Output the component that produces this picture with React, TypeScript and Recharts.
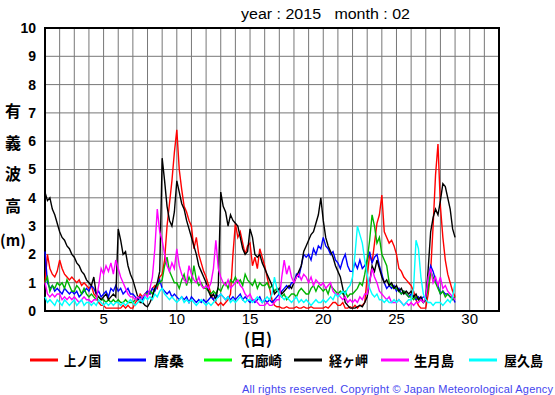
import React from 'react';
import { LineChart, Line, XAxis, YAxis, CartesianGrid, ReferenceArea } from 'recharts';

// 4-hourly samples from day 1.0 to day 29.0 (6 per day)
const kaminokuni = [
  1.0, 2.0, 1.5, 1.3, 1.2, 1.4,
  1.8, 1.5, 1.3, 1.2, 1.1, 1.2,
  1.1, 1.0, 1.1, 0.9, 1.0, 0.9,
  0.8, 0.9, 0.6, 0.5, 0.3, 0.2,
  0.2, 0.1, 0.1, 0.1, 0.1, 0.1,
  0.1, 0.1, 0.2, 0.1, 0.2, 0.1,
  0.1, 0.3, 0.4, 0.6, 0.5, 0.6,
  0.7, 0.6, 0.8, 0.9, 0.8, 1.2,
  1.3, 1.8, 3.0, 3.8, 4.6, 5.6,
  6.4, 5.0, 4.3, 3.7, 3.5, 3.2,
  3.0, 2.2, 2.6, 2.0, 1.7, 1.4,
  1.2, 0.9, 0.6, 0.4, 0.3, 0.2,
  0.3, 0.2, 0.3, 0.4, 0.6, 2.0,
  3.1, 2.6, 2.8, 2.4, 2.0, 2.3,
  2.4, 1.6, 1.9, 1.5, 2.2, 1.9,
  1.6, 1.2, 0.8, 0.4, 0.2, 0.15,
  0.15, 0.1, 0.1, 0.15, 0.1, 0.1,
  0.1, 0.15, 0.1, 0.1, 0.15, 0.1,
  0.1, 0.15, 0.1, 0.1, 0.1, 0.1,
  0.1, 0.15, 0.1, 0.2, 0.3, 0.3,
  0.2, 0.2, 0.3, 0.1, 0.1, 0.15,
  0.1, 0.2, 0.1, 0.2, 0.2, 0.3,
  1.2, 2.0, 1.7, 2.4, 3.1, 3.4,
  4.1, 2.8, 2.6, 2.4, 2.5, 2.3,
  2.0, 1.5, 1.4, 1.2, 1.1, 1.0,
  0.9, 0.7, 0.4, 0.2, 0.1, 0.1,
  0.1, 0.6, 1.4, 3.0, 4.8, 5.9,
  3.7, 2.6, 1.8, 1.3, 1.0, 0.7,
  0.5,
];

const karakuwa = [
  2.1, 1.0, 0.8, 0.9, 0.7, 0.8,
  0.7, 0.6, 0.8, 0.7, 0.6, 0.7,
  0.6, 0.7, 0.5, 0.6, 0.7, 0.8,
  0.7, 0.9, 0.8, 0.6, 0.7, 0.5,
  0.6, 0.7, 0.5, 0.8, 0.7, 0.9,
  0.7, 0.8, 0.6, 0.7, 0.8, 0.6,
  0.6, 0.5, 0.4, 0.5, 0.4, 0.6,
  0.7, 0.6, 0.8, 0.7, 0.9, 1.1,
  0.8, 0.7, 0.6, 0.7, 0.5, 0.6,
  0.5, 0.4, 0.5, 0.4, 0.5, 0.3,
  0.5, 0.4, 0.3, 0.4, 0.3, 0.4,
  0.3, 0.4, 0.5, 0.4, 0.6, 0.5,
  0.6, 0.5, 0.4, 0.5, 0.4, 0.5,
  0.4, 0.5, 0.6, 0.4, 0.5, 0.4,
  0.3, 0.4, 0.3, 0.4, 0.5, 0.3,
  0.4, 0.3, 0.4, 0.3, 0.4, 0.5,
  0.6, 0.7, 0.8, 0.9, 0.8, 1.0,
  1.0, 1.3, 1.2, 1.6, 2.0, 1.9,
  2.0, 1.8, 2.2, 2.0, 2.3, 2.2,
  2.6, 2.3, 2.2, 2.0, 2.1, 1.8,
  1.7, 1.5, 1.8, 2.0, 1.6, 1.4,
  1.4, 1.7, 1.5, 1.8, 1.5, 1.6,
  1.8, 2.1, 1.7, 1.9, 2.0, 1.6,
  1.3, 1.0, 0.8, 0.9, 0.8, 0.9,
  0.7, 0.8, 0.6, 0.7, 0.6, 0.5,
  0.6, 0.5, 0.4, 0.5, 0.4, 0.5,
  0.5, 1.2, 1.6, 1.4, 1.1, 0.9,
  0.6, 0.7, 0.6, 0.6, 0.5, 0.5,
  0.3,
];

const irozaki = [
  1.0, 1.2, 0.7, 0.9, 0.8, 1.0,
  0.9, 1.0, 0.8, 1.1, 0.9, 0.7,
  0.7, 0.9, 0.8, 0.6, 0.8, 0.6,
  0.5, 0.6, 0.5, 0.4, 0.5, 0.4,
  0.4, 0.3, 0.4, 0.3, 0.4, 0.3,
  0.4, 0.3, 0.3, 0.4, 0.3, 0.3,
  0.3, 0.4, 0.5, 0.4, 0.5, 0.6,
  0.6, 0.7, 0.6, 0.8, 0.9, 1.0,
  1.1, 1.6, 1.9, 1.4, 1.2, 1.0,
  1.0, 0.8, 1.1, 1.3, 0.9, 1.2,
  1.0, 1.6, 1.1, 0.9, 1.0, 0.8,
  0.8, 0.7, 0.6, 0.7, 0.6, 0.8,
  0.7, 0.9, 1.0, 0.8, 1.1, 1.0,
  1.2, 1.0, 1.1, 0.9, 1.3, 1.1,
  1.0, 0.9, 1.1, 0.8, 1.0, 0.9,
  0.9, 1.0, 0.8, 0.9, 0.7, 0.8,
  0.6, 0.5, 0.6, 0.4, 0.5, 0.6,
  0.6, 0.5, 0.7, 0.8, 0.7, 0.6,
  0.6, 0.8, 0.9, 0.7, 0.9, 0.8,
  0.7, 0.8, 0.6, 0.9, 0.8, 0.7,
  0.6, 0.7, 0.6, 0.7, 0.5, 0.6,
  0.6, 0.7, 0.8, 1.0, 0.9, 1.3,
  1.8, 2.5, 3.4, 3.0, 2.4, 2.6,
  2.0, 1.8, 1.6, 1.0, 0.9, 0.8,
  0.8, 0.7, 0.6, 0.7, 0.6, 0.5,
  0.5, 0.4, 0.5, 0.4, 0.4, 0.3,
  0.4, 0.8, 1.4, 1.2, 1.0, 0.8,
  0.6, 0.7, 0.5, 0.6, 0.5, 0.4,
  0.5,
];

const kyogamisaki = [
  4.2, 3.9, 4.0, 3.6, 3.4, 3.1,
  2.8, 2.6, 2.5, 2.3, 2.2, 2.0,
  1.9, 1.7, 1.6, 1.4, 1.3, 1.1,
  1.0, 0.9, 1.2, 0.6, 0.5, 0.4,
  0.5, 0.6, 0.4, 0.5, 0.6, 0.5,
  2.9, 2.5, 2.0, 2.1, 1.6, 1.3,
  1.1, 0.8, 0.5, 0.3, 0.3, 0.2,
  0.15, 0.3, 0.5, 0.8, 1.0, 1.4,
  5.4, 4.6, 3.7, 3.2, 3.0, 3.5,
  4.6, 4.2, 3.8, 3.6, 3.2, 2.9,
  2.6, 2.3, 2.0, 1.6, 1.4, 1.2,
  1.0, 0.7, 0.5, 0.6, 0.4, 0.9,
  4.2, 3.7, 3.5, 3.0, 3.4, 3.2,
  3.1, 3.0, 2.6, 2.2, 2.0, 2.1,
  2.9, 2.6, 2.0, 1.9, 2.0, 1.7,
  1.5, 1.3, 1.1, 0.9, 0.6, 0.7,
  0.8, 0.6, 0.7, 0.8, 0.9, 0.8,
  1.0, 1.2, 1.4, 1.6, 2.1, 2.3,
  2.5, 2.7, 2.8, 3.1, 3.4, 4.0,
  3.2, 2.6, 2.3, 2.1, 1.9, 1.6,
  1.4, 1.2, 0.8, 0.3, 0.2, 0.1,
  0.1, 0.1, 0.15, 0.2, 0.15, 0.3,
  0.5, 1.0, 1.6, 1.4, 1.8, 1.5,
  1.2, 1.0, 1.1, 0.9, 1.0, 0.8,
  0.9, 0.7, 0.8, 0.6, 0.7, 0.6,
  0.7, 0.5, 0.6, 0.4, 0.5, 0.3,
  0.4, 1.5, 2.8, 3.3, 3.6, 3.4,
  3.9, 4.5, 4.4, 4.0, 3.6, 2.9,
  2.6,
];

const ikitsukishima = [
  1.0, 0.6, 0.5, 0.6, 0.5, 0.6,
  0.6, 0.4, 0.5, 0.4, 0.5, 0.4,
  0.5, 0.4, 0.3, 0.4, 0.5, 0.4,
  0.4, 0.3, 0.4, 0.4, 0.9, 1.5,
  1.3, 1.6, 1.4, 1.7, 1.3, 1.8,
  1.5, 1.2, 1.0, 0.8, 0.6, 0.5,
  0.5, 0.4, 0.5, 0.4, 0.5, 0.6,
  0.5, 0.8, 1.2, 2.2, 3.6, 2.8,
  2.5, 2.0, 1.6, 1.4, 1.7, 1.5,
  2.2, 1.6, 1.3, 1.1, 1.0, 1.6,
  1.3, 1.1, 1.0, 1.2, 0.9, 0.8,
  0.9, 0.8, 1.0, 1.5, 2.5, 1.5,
  1.2, 1.0, 0.9, 1.1, 0.8, 0.9,
  1.0, 1.1, 0.9, 0.8, 0.6, 0.5,
  0.6, 0.4, 0.4, 0.3, 0.2, 0.2,
  0.2, 0.3, 0.2, 0.2, 0.3, 0.4,
  0.4, 1.2, 1.8, 1.3, 1.6, 1.2,
  1.0, 1.2, 1.3, 1.1, 1.3, 1.2,
  1.0, 1.2, 0.9, 1.1, 1.0, 0.9,
  1.0, 0.8, 0.9, 1.0, 0.7, 0.6,
  0.6, 0.5, 0.4, 0.5, 0.3, 0.4,
  0.3, 0.4, 0.3, 0.5, 0.4, 0.6,
  0.6, 1.0, 1.5, 1.2, 1.0, 0.7,
  0.6, 0.5, 0.4, 0.5, 0.3, 0.3,
  0.3, 0.4, 0.3, 0.2, 0.3, 0.2,
  0.3, 0.2, 0.3, 0.3, 0.4, 0.3,
  0.5, 1.2, 1.5, 1.0, 1.2, 0.9,
  1.2, 0.8, 0.9, 0.7, 0.6, 0.5,
  0.4,
];

const yakushima = [
  0.5, 0.3, 0.4, 0.3, 0.2, 0.4,
  0.3, 0.2, 0.4, 0.3, 0.2, 0.3,
  0.4, 0.2, 0.3, 0.4, 0.2, 0.3,
  0.3, 0.2, 0.3, 0.2, 0.4, 0.3,
  0.2, 0.3, 0.2, 0.3, 0.2, 0.3,
  0.3, 0.2, 0.3, 0.2, 0.3, 0.4,
  0.3, 0.2, 0.3, 0.4, 0.3, 0.5,
  0.4, 0.5, 0.4, 0.6, 0.5, 0.7,
  0.8, 0.6, 0.5, 0.4, 0.5, 0.4,
  0.3, 0.4, 0.5, 0.3, 0.4, 0.3,
  0.4, 0.3, 0.2, 0.3, 0.4, 0.3,
  0.2, 0.3, 0.2, 0.3, 0.4, 0.5,
  0.6, 0.5, 0.4, 0.5, 0.3, 0.4,
  0.3, 0.4, 0.5, 0.4, 0.3, 0.4,
  0.4, 0.3, 0.4, 0.5, 0.4, 0.3,
  0.4, 0.5, 0.4, 0.6, 1.2, 0.8,
  0.6, 0.5, 0.4, 0.5, 0.4, 0.3,
  0.4, 0.5, 0.3, 0.4, 0.3, 0.4,
  0.3, 0.2, 0.3, 0.4, 0.3, 0.3,
  0.4, 0.3, 0.4, 0.5, 0.4, 0.6,
  0.5, 0.6, 0.7, 0.6, 0.8, 0.9,
  1.2, 2.0, 3.0, 2.7, 2.4, 1.8,
  1.3, 0.8, 0.6, 0.5, 0.6, 0.4,
  0.4, 0.3, 0.4, 0.3, 0.3, 0.4,
  0.3, 0.4, 0.3, 0.2, 0.3, 0.4,
  0.4, 0.8, 2.5, 2.2, 1.2, 0.6,
  0.4, 0.3, 0.3, 0.2, 0.3, 0.3,
  0.3, 0.2, 0.3, 0.4, 0.3, 0.5,
  1.0,
];

const samplesPerDay = 6;
const firstDay = 1;
const xTicks = Array.from({ length: 32 }, (_, i) => i + 1);
const xLabels = [5, 10, 15, 20, 25, 30];
const yTicks = [0, 1, 2, 3, 4, 5, 6, 7, 8, 9, 10];

const seriesDefs = [
  { key: 'kaminokuni', name: '上ノ国', values: kaminokuni, color: '#ff0000', legend: '#ff0000' },
  { key: 'karakuwa', name: '唐桑', values: karakuwa, color: '#0000ff', legend: '#0000ff' },
  { key: 'irozaki', name: '石廊崎', values: irozaki, color: '#00b400', legend: '#00ff00' },
  { key: 'kyogamisaki', name: '経ヶ岬', values: kyogamisaki, color: '#000000', legend: '#000000' },
  { key: 'ikitsukishima', name: '生月島', values: ikitsukishima, color: '#ff00ff', legend: '#ff00ff' },
  { key: 'yakushima', name: '屋久島', values: yakushima, color: '#00ffff', legend: '#00ffff' },
];

const data = kaminokuni.map((_, i) => {
  const row: Record<string, number> = { day: firstDay + i / samplesPerDay };
  seriesDefs.forEach((s) => {
    row[s.key] = s.values[i];
  });
  return row;
});

const legendLineX = [30, 118, 204, 294, 381, 469];
const legendTextX = [64, 154, 241, 329, 414, 504];
const legendTextW = [37, 30, 41, 39, 40, 39];
const yLabelChars = [
  { t: '有', y: 110 },
  { t: '義', y: 142 },
  { t: '波', y: 173 },
  { t: '高', y: 205 },
];

const numFont = '"Liberation Sans", Arial, sans-serif';
const cjkFont = '"Noto Sans CJK JP", "Noto Sans", sans-serif';

export default function App() {
  return (
    <div style={{ position: 'absolute', left: 0, top: 0, width: 555, height: 395, background: '#fff' }}>
      <LineChart
        width={555}
        height={395}
        data={data}
        margin={{ top: 28, right: 56, bottom: 64, left: 5 }}
      >
        <CartesianGrid stroke="#777" strokeWidth={1} />
        <XAxis
          dataKey="day"
          type="number"
          domain={[1, 32]}
          ticks={xTicks}
          interval={0}
          height={20}
          axisLine={false}
          tickLine={false}
          tickMargin={-4}
          tickFormatter={(v: number) => (xLabels.includes(v) ? String(v) : '')}
          tick={{ fill: '#000', fontSize: 15, fontFamily: numFont }}
        />
        <YAxis
          type="number"
          domain={[0, 10]}
          ticks={yTicks}
          interval={0}
          width={40}
          axisLine={false}
          tickLine={false}
          tickMargin={3}
          tick={{ fill: '#000', fontSize: 14, fontWeight: 'bold', fontFamily: numFont }}
        />
        {seriesDefs.map((s) => (
          <Line
            key={s.key}
            dataKey={s.key}
            name={s.name}
            type="linear"
            stroke={s.color}
            strokeWidth={1.4}
            dot={false}
            isAnimationActive={false}
          />
        ))}
        <ReferenceArea x1={1} x2={32} y1={0} y2={10} fill="none" fillOpacity={0} stroke="#000" strokeWidth={2} />
      </LineChart>
      <svg width={555} height={395} style={{ position: 'absolute', left: 0, top: 0, pointerEvents: 'none' }}>
        <text x={241} y={19} fontSize={14} fontFamily={numFont} fill="#000" style={{ whiteSpace: 'pre' }} textLength={169} lengthAdjust="spacingAndGlyphs">
          {'year : 2015   month : 02'}
        </text>
        {yLabelChars.map((c) => (
          <text key={c.t} x={13} y={c.y} fontSize={16} fontWeight="bold" fontFamily={cjkFont} textAnchor="middle" dominantBaseline="central" fill="#000">
            {c.t}
          </text>
        ))}
        <text x={13} y={239} fontSize={15} fontWeight="bold" fontFamily={cjkFont} textAnchor="middle" dominantBaseline="central" fill="#000">
          (m)
        </text>
        <text x={258} y={338} fontSize={16} fontWeight="bold" fontFamily={cjkFont} textAnchor="middle" dominantBaseline="central" fill="#000">
          (日)
        </text>
        {seriesDefs.map((s, i) => (
          <g key={s.key}>
            <line x1={legendLineX[i]} x2={legendLineX[i] + 28} y1={360} y2={360} stroke={s.legend} strokeWidth={3} />
            <text
              x={legendTextX[i]}
              y={360}
              fontSize={14}
              fontWeight="bold"
              fontFamily={cjkFont}
              dominantBaseline="central"
              fill="#000"
              textLength={legendTextW[i]}
              lengthAdjust="spacingAndGlyphs"
            >
              {s.name}
            </text>
          </g>
        ))}
        <text x={242} y={393} fontSize={11} fontFamily={numFont} fill="#4444ee" textLength={311} lengthAdjust="spacing">
          All rights reserved. Copyright © Japan Meteorological Agency
        </text>
      </svg>
    </div>
  );
}
